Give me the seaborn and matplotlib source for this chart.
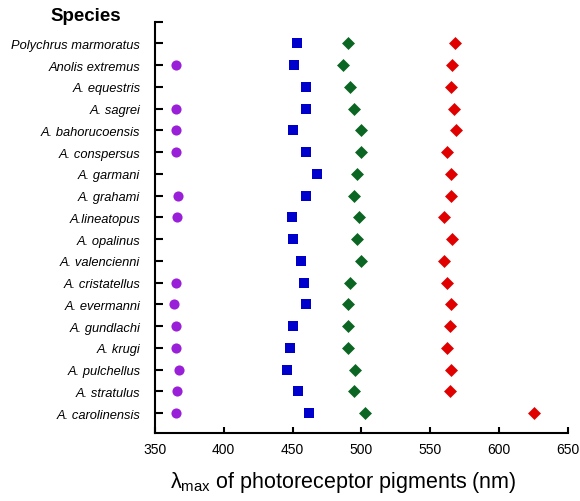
import matplotlib
matplotlib.use("Agg")
import matplotlib.pyplot as plt
import seaborn as sns
import numpy as np
import pandas as pd

species = [
    "Polychrus marmoratus", "Anolis extremus", "A. equestris", "A. sagrei",
    "A. bahorucoensis", "A. conspersus", "A. garmani", "A. grahami",
    "A.lineatopus", "A. opalinus", "A. valencienni", "A. cristatellus",
    "A. evermanni", "A. gundlachi", "A. krugi", "A. pulchellus",
    "A. stratulus", "A. carolinensis",
]
# lambda max (nm) per pigment class, NaN where not measured
uv = [np.nan, 365, np.nan, 365, 365, 365, np.nan, 367, 366, np.nan, np.nan,
      365, 364, 365, 365, 367.5, 366, 365]
sws2 = [453, 451, 460, 460, 450, 460, 467.5, 460, 449.5, 450.5, 456, 458,
        460, 450, 448, 446, 454, 462]
rh2 = [490.5, 487, 492, 495, 500, 500, 496.5, 495, 498, 497, 500, 492,
       490.5, 490.5, 490.5, 495.5, 494.5, 503]
lws = [568, 566, 565, 567, 569, 562, 565, 565, 560, 566, 560, 562.5, 565,
       564.5, 562, 565, 564.5, 625.5]

df = pd.DataFrame({"Species": species, "UV": uv, "SWS2": sws2, "RH2": rh2, "LWS": lws})

sns.set_style("ticks")
plt.rcParams["font.family"] = ["Liberation Sans", "DejaVu Sans"]
plt.rcParams["mathtext.fontset"] = "custom"
plt.rcParams["mathtext.rm"] = "Liberation Sans"
plt.rcParams["text.color"] = "black"
plt.rcParams["axes.labelcolor"] = "black"
plt.rcParams["xtick.color"] = "black"
plt.rcParams["ytick.color"] = "black"

fig = plt.figure(figsize=(5.8, 5.02), dpi=100)
ax = fig.add_axes([0.267, 0.135, 0.712, 0.82])

# one stripplot per pigment class
styles = [
    ("UV", "o", "#9a1fd8", 7.3),
    ("SWS2", "s", "#0000cc", 7.7),
    ("RH2", "D", "#0b6623", 6.6),
    ("LWS", "D", "#e00000", 6.6),
]
for col, mk, c, sz in styles:
    sns.stripplot(data=df, x=col, y="Species", order=species, jitter=False,
                  marker=mk, color=c, size=sz, linewidth=0, ax=ax)

ax.set_xlim(350, 650)
ax.set_xticks(range(350, 651, 50))
ax.set_ylim(len(species) - 0.07, -1)
ax.set_yticks(range(-1, len(species)))
ax.set_yticklabels([""] + species, fontstyle="italic", fontsize=9.3)
ax.set_ylabel("")
ax.set_xlabel(r"λ$_{\rm max}$ of photoreceptor pigments (nm)", fontsize=15.5,
              labelpad=10, x=0.455)

for s in ["top", "right"]:
    ax.spines[s].set_visible(False)
for s in ["left", "bottom"]:
    ax.spines[s].set_color("black")
    ax.spines[s].set_linewidth(1.5)
ax.tick_params(axis="y", left=True, direction="in", length=5.5, width=1.5, pad=10.5)
ax.tick_params(axis="x", bottom=True, direction="in", length=4.5, width=1.5, pad=6, labelsize=10)

fig.text(0.148, 0.968, "Species", fontsize=13.5, fontweight="bold", ha="center", va="center")

plt.savefig("out.png", dpi=100)
